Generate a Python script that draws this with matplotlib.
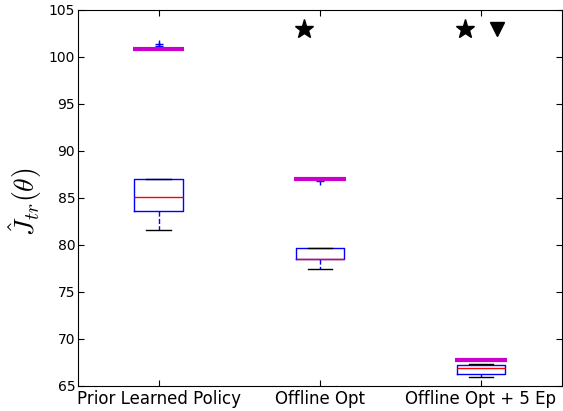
import matplotlib
matplotlib.use("Agg")
import matplotlib.pyplot as plt

plt.rcParams["mathtext.fontset"] = "cm"

# ---------- DATA ----------
labels = ["Prior Learned Policy", "Offline Opt", "Offline Opt + 5 Ep"]
whislo = [81.6, 77.4, 65.9]
q1 = [83.6, 78.5, 66.3]
med = [85.1, 78.5, 66.9]
q3 = [87.0, 79.7, 67.2]
whishi = [87.0, 79.7, 67.3]
fliers = [[101.4, 101.2], [86.8], []]
best = [100.8, 87.0, 67.8]          # magenta lines
star_x = [1.9, 2.9]
star_y = [103, 103]
tri_x = [3.1]
tri_y = [103]

# ---------- PLOT ----------
fig = plt.figure(figsize=(5.63, 4.11), dpi=100, facecolor="white")
ax = fig.add_axes([0.1385, 0.061, 0.859, 0.915])

stats = []
for i in range(len(labels)):
    stats.append({
        "whislo": whislo[i], "q1": q1[i], "med": med[i], "q3": q3[i],
        "whishi": whishi[i], "fliers": fliers[i], "label": labels[i],
    })

ax.bxp(stats, positions=[1, 2, 3], widths=0.3,
       boxprops=dict(color="blue", linewidth=1),
       whiskerprops=dict(color="blue", linestyle="--", linewidth=1),
       capprops=dict(color="black", linewidth=1),
       medianprops=dict(color="red", linewidth=1),
       flierprops=dict(marker="+", markeredgecolor="blue", markersize=6,
                       linestyle="none"))

ax.hlines(best, [p - 0.16 for p in [1, 2, 3]], [p + 0.16 for p in [1, 2, 3]],
          colors="#cc00cc", linewidth=3, zorder=3)

ax.plot(star_x, star_y, linestyle="none", marker="*", color="black", markersize=14)
ax.plot(tri_x, tri_y, linestyle="none", marker="v", color="black", markersize=10)

ax.set_xlim(0.5, 3.5)
ax.set_ylim(65, 105)
ax.set_yticks(range(65, 106, 5))
ax.tick_params(direction="in", top=True, right=True, length=4)
ax.tick_params(axis="y", labelsize=10, pad=2)
ax.tick_params(axis="x", labelsize=12, pad=3)
ax.set_ylabel(r"$\hat{J}_{tr}(\theta)$", fontsize=20)
ax.yaxis.set_label_coords(-0.07, 0.49)

fig.savefig("out.png", dpi=100, facecolor="white")
